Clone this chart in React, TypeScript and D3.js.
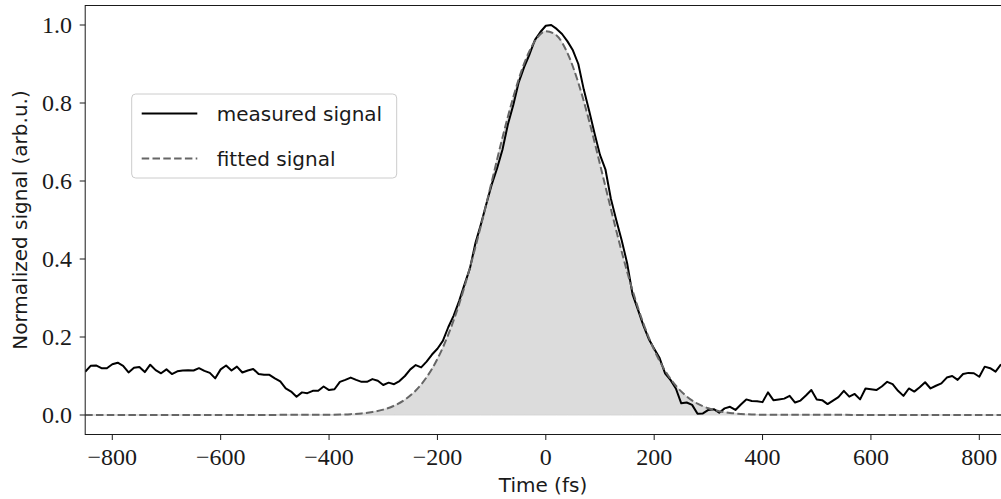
import React from 'react';
import * as d3 from 'd3';

// measured signal sampled every 10 fs from -850 fs to 840 fs
const measuredTime: number[] = d3.range(-850, 841, 10);
const measuredSignal: number[] = [
  0.111, 0.126, 0.127, 0.120, 0.120, 0.130, 0.134, 0.126, 0.109, 0.121,
  0.123, 0.110, 0.129, 0.115, 0.107, 0.117, 0.105, 0.112, 0.114, 0.115,
  0.114, 0.120, 0.113, 0.108, 0.094, 0.117, 0.127, 0.114, 0.124, 0.109,
  0.114, 0.118, 0.105, 0.103, 0.103, 0.094, 0.086, 0.068, 0.060, 0.047,
  0.058, 0.056, 0.062, 0.062, 0.073, 0.064, 0.066, 0.085, 0.090, 0.096,
  0.090, 0.085, 0.085, 0.092, 0.088, 0.077, 0.083, 0.079, 0.087, 0.100,
  0.117, 0.128, 0.122, 0.137, 0.155, 0.170, 0.190, 0.225, 0.255, 0.292,
  0.335, 0.376, 0.440, 0.488, 0.540, 0.590, 0.632, 0.680, 0.745, 0.795,
  0.853, 0.892, 0.925, 0.962, 0.982, 0.998, 1.000, 0.990, 0.977, 0.958,
  0.935, 0.900, 0.835, 0.780, 0.722, 0.667, 0.630, 0.555, 0.500, 0.448,
  0.390, 0.310, 0.270, 0.230, 0.195, 0.170, 0.146, 0.107, 0.090, 0.068,
  0.030, 0.032, 0.026, 0.003, 0.004, 0.013, 0.015, 0.006, 0.017, 0.021,
  0.013, 0.027, 0.040, 0.036, 0.035, 0.033, 0.058, 0.038, 0.040, 0.042,
  0.049, 0.032, 0.037, 0.050, 0.064, 0.040, 0.038, 0.028, 0.037, 0.046,
  0.062, 0.047, 0.054, 0.040, 0.068, 0.066, 0.064, 0.073, 0.085, 0.079,
  0.062, 0.049, 0.068, 0.060, 0.071, 0.084, 0.068, 0.075, 0.081, 0.096,
  0.100, 0.090, 0.105, 0.108, 0.107, 0.098, 0.124, 0.120, 0.111, 0.130,
];

// fitted signal read at 20 fs steps around the pulse, zero far out
const fittedTime: number[] = [-850, ...d3.range(-400, 401, 20), 850];
const fittedSignal: number[] = [
  0,
  0.0005, 0.0011, 0.0022, 0.0041, 0.0077, 0.0137, 0.0237, 0.0393, 0.0628, 0.0968,
  0.1438, 0.206, 0.284, 0.378, 0.484, 0.597, 0.711, 0.815, 0.901, 0.959,
  0.984,
  0.973, 0.928, 0.852, 0.754, 0.643, 0.529, 0.419, 0.320, 0.235, 0.167,
  0.114, 0.075, 0.0476, 0.0291, 0.0172, 0.0097, 0.0053, 0.0028, 0.0014, 0.0007,
  0,
];

const xTicks: number[] = [-800, -600, -400, -200, 0, 200, 400, 600, 800];
const yTicks: number[] = [0.0, 0.2, 0.4, 0.6, 0.8, 1.0];
const legendLabels: string[] = ['measured signal', 'fitted signal'];
const xLabel = 'Time (fs)';
const yLabel = 'Normalized signal (arb.u.)';

const SERIF = '"Liberation Serif", "Times New Roman", serif';
const SANS = '"DejaVu Sans", sans-serif';

export default function App() {
  const W = 1001;
  const H = 499;
  const left = 85.2;
  const top = 5.5;
  const bottom = 434.5;
  const x = d3.scaleLinear().domain([-850, 850]).range([left, 1006.4]);
  const y = d3.scaleLinear().domain([-0.05, 1.05]).range([bottom, top]);
  const right = x(850);

  const measured = measuredTime.map((t, i) => [t, measuredSignal[i]] as [number, number]);
  const fitted = fittedTime.map((t, i) => [t, fittedSignal[i]] as [number, number]);

  const lineM = d3.line<[number, number]>().x(d => x(d[0])).y(d => y(d[1]));
  const lineF = d3
    .line<[number, number]>()
    .x(d => x(d[0]))
    .y(d => y(d[1]))
    .curve(d3.curveMonotoneX);
  const areaF = d3
    .area<[number, number]>()
    .x(d => x(d[0]))
    .y0(y(0))
    .y1(d => y(d[1]))
    .curve(d3.curveMonotoneX);

  const fmtX = (t: number) => (t < 0 ? '\u2212' + Math.abs(t) : String(t));
  const fmtY = (t: number) => t.toFixed(1);

  const dash = '7.5,3.3';
  const lgX = 131.7;
  const lgY = 94;
  const lgW = 265;
  const lgH = 84;

  return (
    <svg
      width={W}
      height={H}
      style={{ position: 'absolute', left: 0, top: 0, background: '#fff' }}
    >
      <defs>
        <clipPath id="plotclip">
          <rect x={left} y={top} width={right - left} height={bottom - top} />
        </clipPath>
      </defs>
      <rect x={0} y={0} width={W} height={H} fill="#fff" />
      <g clipPath="url(#plotclip)">
        <path d={areaF(fitted) || ''} fill="#dcdcdc" stroke="#d0d0d0" strokeWidth={0.8} />
        <path d={lineM(measured) || ''} fill="none" stroke="#000" strokeWidth={2} strokeLinejoin="round" />
        <path
          d={lineF(fitted) || ''}
          fill="none"
          stroke="#666666"
          strokeWidth={2}
          strokeDasharray={dash}
        />
      </g>
      {/* spines */}
      <rect x={left} y={top} width={right - left} height={bottom - top} fill="none" stroke="#1a1a1a" strokeWidth={1} />
      {/* x ticks */}
      {xTicks.map(t => (
        <g key={'x' + t}>
          <line x1={x(t)} x2={x(t)} y1={bottom} y2={bottom + 5.5} stroke="#1a1a1a" strokeWidth={1} />
          <text
            x={x(t)}
            y={465}
            textAnchor="middle"
            fontFamily={SERIF}
            fontSize={24}
            fill="#1a1a1a"
          >
            {fmtX(t)}
          </text>
        </g>
      ))}
      {/* y ticks */}
      {yTicks.map(t => (
        <g key={'y' + t}>
          <line x1={left - 5.5} x2={left} y1={y(t)} y2={y(t)} stroke="#1a1a1a" strokeWidth={1} />
          <text
            x={72}
            y={y(t) + 8}
            textAnchor="end"
            fontFamily={SERIF}
            fontSize={24}
            fill="#1a1a1a"
          >
            {fmtY(t)}
          </text>
        </g>
      ))}
      {/* axis labels */}
      <text x={543} y={492} textAnchor="middle" fontFamily={SANS} fontSize={20} fill="#1a1a1a">
        {xLabel}
      </text>
      <text
        transform={`translate(27, ${(top + bottom) / 2}) rotate(-90)`}
        textAnchor="middle"
        fontFamily={SANS}
        fontSize={20}
        fill="#1a1a1a"
      >
        {yLabel}
      </text>
      {/* legend */}
      <rect
        x={lgX}
        y={lgY}
        width={lgW}
        height={lgH}
        rx={4}
        ry={4}
        fill="#fff"
        fillOpacity={0.8}
        stroke="#cccccc"
        strokeWidth={1}
      />
      {legendLabels.map((lab, i) => {
        const ly = 113.5 + i * 45;
        return (
          <g key={lab}>
            <line
              x1={141.7}
              x2={197.3}
              y1={ly}
              y2={ly}
              stroke={i === 0 ? '#000' : '#666666'}
              strokeWidth={2}
              strokeDasharray={i === 0 ? undefined : dash}
            />
            <text x={216.7} y={ly + 7.5} fontFamily={SANS} fontSize={20} fill="#1a1a1a">
              {lab}
            </text>
          </g>
        );
      })}
    </svg>
  );
}
